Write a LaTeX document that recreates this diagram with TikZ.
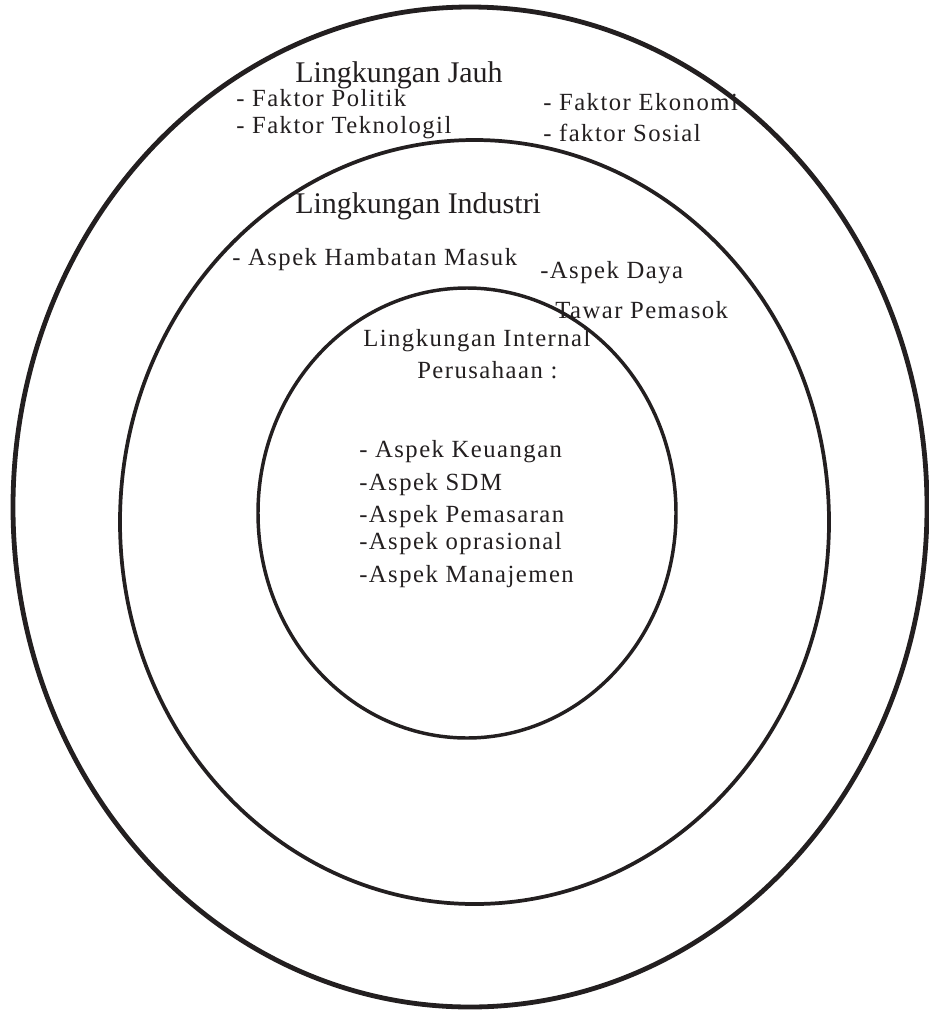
\documentclass[tikz,border=0pt]{standalone}
\usepackage{fontspec}
\setmainfont{Liberation Serif}
\newfontfamily\envspaced[LetterSpace=6]{Liberation Serif}
\usetikzlibrary{positioning}
\definecolor{EnvInk}{RGB}{35,31,32}
\tikzset{
  env/ring/.style={
    draw=EnvInk,
    line width=2.6pt
  },
  env/title/.style={
    anchor=base west,
    inner sep=0pt,
    text=EnvInk,
    font=\fontsize{22.5}{26}\selectfont
  },
  env/item/.style={
    anchor=base west,
    inner sep=0pt,
    text=EnvInk,
    font=\envspaced\fontsize{18.5}{22}\selectfont
  }
}

\begin{document}
\begin{tikzpicture}[x=0.75pt,y=-0.75pt]
  \useasboundingbox[fill=white] (0,0) rectangle (928,1010);
  % rings
  \draw[env/ring,line width=3.6pt] (470,507) ellipse [x radius=457,y radius=500];
  \draw[env/ring,line width=2.8pt] (474.5,522) ellipse [x radius=354.5,y radius=382];
  \draw[env/ring] (467,513) ellipse [x radius=209,y radius=225];
  % outer ring
  \node[env/title] (jauh) at (295,82) {Lingkungan Jauh};
  \node[env/item] (politik) at (236,106) {- Faktor Politik};
  \node[env/item] (teknologi) at (236,133) {- Faktor Teknologil};
  \node[env/item] (ekonomi) at (543,110) {- Faktor Ekonomi};
  \node[env/item] (sosial) at (543,141) {- faktor Sosial};
  % middle ring
  \node[env/title] (industri) at (295,213) {Lingkungan Industri};
  \node[env/item] (hambatan) at (232,265) {- Aspek Hambatan Masuk};
  \node[env/item] (daya) at (540,278) {-Aspek Daya};
  \node[env/item] (tawar) at (555,318) {Tawar Pemasok};
  % inner ring
  \node[env/item] (internal) at (363,346) {Lingkungan Internal};
  \node[env/item] (perusahaan) at (417,378) {Perusahaan :};
  \node[env/item] (keuangan) at (359,457) {- Aspek Keuangan};
  \node[env/item] (sdm) at (359,490) {-Aspek SDM};
  \node[env/item] (pemasaran) at (359,522) {-Aspek Pemasaran};
  \node[env/item] (oprasional) at (359,549) {-Aspek oprasional};
  \node[env/item] (manajemen) at (359,582) {-Aspek Manajemen};
\end{tikzpicture}
\end{document}
